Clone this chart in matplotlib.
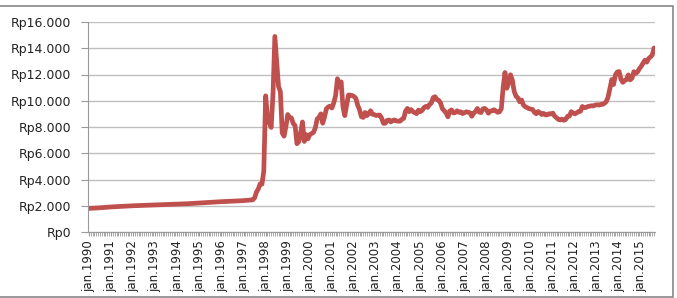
import numpy as np
import matplotlib
matplotlib.use("Agg")
import matplotlib.pyplot as plt
from matplotlib.patches import Rectangle
from matplotlib.ticker import FuncFormatter

# monthly IDR/USD rate, jan.1990 .. aug.2015
years = list(range(1990, 2016))
rates = {
    1990: [1800, 1805, 1812, 1820, 1828, 1836, 1845, 1855, 1865, 1878, 1890, 1900],
    1991: [1910, 1918, 1925, 1932, 1940, 1948, 1955, 1962, 1970, 1978, 1985, 1992],
    1992: [2000, 2005, 2012, 2018, 2025, 2030, 2036, 2042, 2048, 2052, 2058, 2062],
    1993: [2065, 2068, 2072, 2076, 2080, 2084, 2088, 2092, 2096, 2100, 2105, 2110],
    1994: [2112, 2118, 2126, 2134, 2142, 2150, 2158, 2166, 2174, 2182, 2190, 2200],
    1995: [2205, 2212, 2222, 2230, 2238, 2248, 2258, 2268, 2278, 2288, 2298, 2308],
    1996: [2312, 2318, 2324, 2330, 2336, 2342, 2348, 2354, 2360, 2368, 2376, 2383],
    1997: [2396, 2405, 2419, 2433, 2440, 2450, 2599, 3035, 3275, 3670, 3648, 4650],
    1998: [10375, 8750, 8325, 7970, 10525, 14900, 13000, 11075, 10700, 7550, 7300, 8025],
    1999: [8950, 8730, 8685, 8260, 8105, 6726, 6875, 7565, 8386, 6900, 7425, 7100],
    2000: [7425, 7505, 7590, 7945, 8620, 8735, 9003, 8290, 8780, 9395, 9530, 9595],
    2001: [9450, 9835, 10400, 11675, 11058, 11440, 9525, 8865, 9675, 10435, 10430, 10400],
    2002: [10320, 10189, 9655, 9316, 8785, 8730, 9108, 8867, 9015, 9233, 8976, 8940],
    2003: [8876, 8905, 8908, 8675, 8279, 8285, 8505, 8535, 8389, 8495, 8537, 8465],
    2004: [8441, 8447, 8587, 8661, 9210, 9415, 9168, 9328, 9170, 9090, 9018, 9290],
    2005: [9165, 9260, 9480, 9570, 9495, 9713, 9819, 10240, 10310, 10090, 10035, 9830],
    2006: [9395, 9230, 9075, 8775, 9220, 9300, 9070, 9100, 9235, 9110, 9165, 9020],
    2007: [9090, 9160, 9118, 9083, 8815, 9054, 9186, 9410, 9137, 9103, 9376, 9419],
    2008: [9291, 9051, 9217, 9234, 9318, 9225, 9118, 9153, 9378, 10995, 12151, 10950],
    2009: [11355, 11980, 11575, 10713, 10340, 10225, 9920, 10060, 9681, 9545, 9480, 9400],
    2010: [9365, 9335, 9115, 9012, 9180, 9083, 8952, 9041, 8924, 8928, 9013, 8991],
    2011: [9057, 8823, 8709, 8574, 8537, 8597, 8508, 8578, 8823, 8835, 9170, 9068],
    2012: [9000, 9085, 9180, 9190, 9565, 9480, 9485, 9560, 9588, 9615, 9605, 9670],
    2013: [9698, 9667, 9719, 9722, 9802, 9929, 10278, 10924, 11613, 11234, 11977, 12189],
    2014: [12226, 11634, 11404, 11532, 11611, 11969, 11591, 11717, 12212, 12082, 12196, 12440],
    2015: [12625, 12863, 13084, 12937, 13211, 13332, 13481, 14027],
}
values = [v for y in years for v in rates[y]]
tick_labels = ["jan.%d" % y for y in years]
y_ticks = [0, 2000, 4000, 6000, 8000, 10000, 12000, 14000, 16000]

plt.rcParams["font.family"] = ["DejaVu Sans", "Lato"]
fig = plt.figure(figsize=(6.77, 2.98), dpi=100)
ax = fig.add_axes([88 / 677, (298 - 232) / 298, (655 - 88) / 677, (232 - 22) / 298])

x = np.arange(len(values))
ax.plot(x, values, color="#C0504D", lw=3.4, solid_capstyle="round", solid_joinstyle="round")

ax.set_xlim(-0.5, len(values) - 0.5)
ax.set_ylim(0, 16000)
ax.set_yticks(y_ticks)
ax.yaxis.set_major_formatter(FuncFormatter(lambda v, p: "Rp" + format(int(v), ",").replace(",", ".")))
ax.grid(axis="y", color="#BFBFBF", lw=1)
ax.set_axisbelow(True)

ax.set_xticks(np.arange(0, len(values), 12))
ax.set_xticklabels(tick_labels, rotation=90)
ax.set_xticks(x, minor=True)

for s in ["top", "right"]:
    ax.spines[s].set_visible(False)
ax.spines["left"].set_color("#999999")
ax.spines["bottom"].set_color("#999999")
ax.tick_params(axis="y", length=5, color="#999999", labelsize=9, pad=7, labelcolor="#222222")
ax.tick_params(axis="x", which="both", length=3, color="#999999", labelsize=8.5, pad=3, labelcolor="#222222")

# outer chart border
fig.patches.append(Rectangle((-0.01, 1 / 298), 673 / 677 + 0.01, 291 / 298, transform=fig.transFigure,
                             fill=False, edgecolor="#888888", lw=1.2))

fig.savefig("out.png", dpi=100)
